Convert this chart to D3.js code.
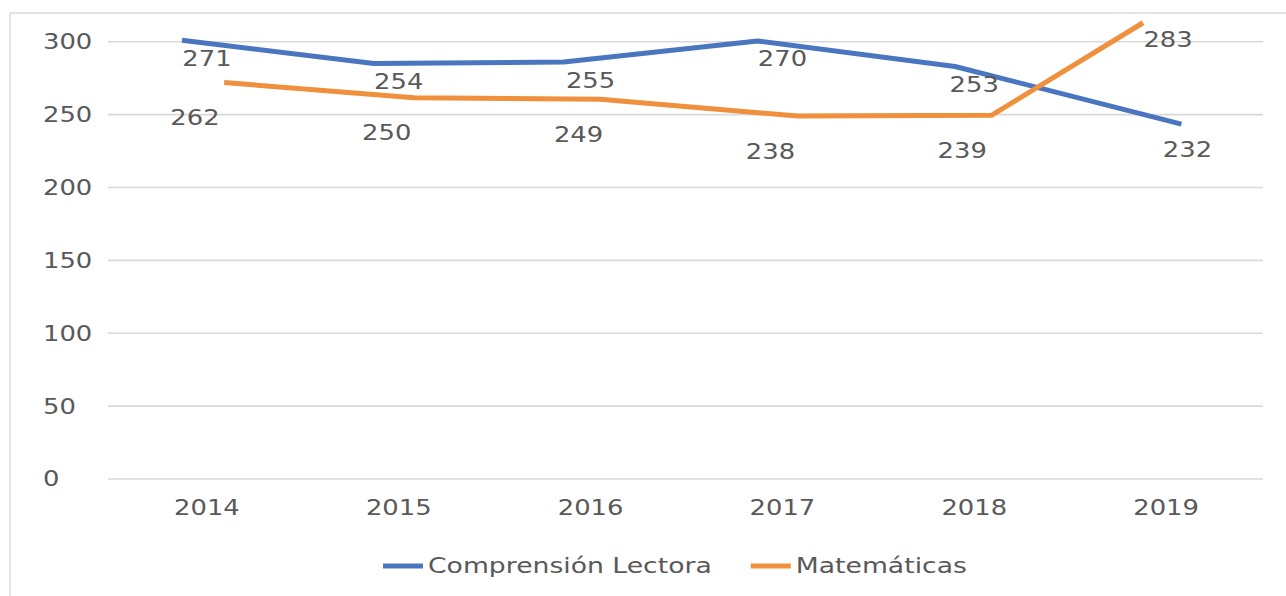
<!DOCTYPE html>
<html>
<head>
<meta charset="utf-8">
<script src="https://cdn.jsdelivr.net/npm/d3@7"></script>
<style>
  body { margin: 0; background: #fff; }
  text { font-family: "DejaVu Sans", sans-serif; fill: #595959; }
</style>
</head>
<body>
<div id="chart"></div>
<script>
// categories and values
var years = [2014, 2015, 2016, 2017, 2018, 2019];
var yTicks = [0, 50, 100, 150, 200, 250, 300];

// data labels as printed
var lectoraLabels = [271, 254, 255, 270, 253, 232];
var mateLabels = [262, 250, 249, 238, 239, 283];

// where the lines are actually drawn in the picture (year position, value)
var lectoraX = [2013.87, 2014.87, 2015.86, 2016.87, 2017.90, 2019.08];
var lectoraY = [301, 285, 286, 300.5, 283, 243.5];
var mateX = [2014.09, 2015.08, 2016.05, 2017.08, 2018.09, 2018.88];
var mateY = [272, 261.5, 260.5, 249, 249.5, 313];

var series = [
  { name: "Comprensión Lectora", color: "#4a76c0", xs: lectoraX, ys: lectoraY, labels: lectoraLabels, dx: 0, dy: 18 },
  { name: "Matemáticas", color: "#f0903c", xs: mateX, ys: mateY, labels: mateLabels, dx: -12, dy: 35 }
];

var W = 1286, H = 596;
var stretch = 1.26; // text in the picture is wider than tall

var svg = d3.select("#chart").append("svg")
    .attr("width", W)
    .attr("height", H);

// outer frame
svg.append("rect")
    .attr("x", 10).attr("y", 13)
    .attr("width", W + 10).attr("height", H + 10)
    .attr("fill", "none")
    .attr("stroke", "#dcdcdc")
    .attr("stroke-width", 1.5);

var x = d3.scaleLinear().domain([2013.5, 2019.5]).range([111, 1262]);
var y = d3.scaleLinear().domain([0, 300]).range([479, 41.7]);

function label(g, txt, px, py, anchor) {
  g.append("text")
    .attr("transform", "translate(" + px + "," + py + ") scale(" + stretch + ",1)")
    .attr("text-anchor", anchor || "middle")
    .attr("dominant-baseline", "central")
    .style("font-size", "20.5px")
    .text(txt);
}

// gridlines
svg.append("g").selectAll("line")
  .data(yTicks)
  .join("line")
    .attr("x1", 108).attr("x2", 1263)
    .attr("y1", d => y(d)).attr("y2", d => y(d))
    .attr("stroke", "#d9d9d9")
    .attr("stroke-width", 1.6);

// y tick labels (left aligned like the picture)
var yAxis = svg.append("g");
yTicks.forEach(function(t) { label(yAxis, t, 43, y(t), "start"); });

// x tick labels
var xAxis = svg.append("g");
years.forEach(function(yr) { label(xAxis, yr, x(yr), 508); });

// lines
var line = d3.line()
    .x(d => x(d[0]))
    .y(d => y(d[1]));

series.forEach(function(s) {
  svg.append("path")
    .datum(d3.zip(s.xs, s.ys))
    .attr("d", line)
    .attr("fill", "none")
    .attr("stroke", s.color)
    .attr("stroke-width", 5)
    .attr("stroke-linejoin", "round");
});

// data labels
var labs = svg.append("g");
series.forEach(function(s) {
  var top = d3.maxIndex(s.ys);
  var last = s.labels.length - 1;
  s.labels.forEach(function(v, i) {
    if (s.dx < 0 && i === top) {
      // the peak label sits to the right of the line end
      label(labs, v, x(s.xs[i]) + 25, y(s.ys[i]) + 17);
    } else if (i === last && x(s.xs[i]) > x(years[i])) {
      // line end runs past the category, label follows it
      label(labs, v, x(s.xs[i]) + 6, y(s.ys[i]) + s.dy + 7);
    } else {
      label(labs, v, x(years[i]) + s.dx, y(s.ys[i]) + s.dy);
    }
  });
});

// legend
var legend = svg.append("g");
var lx = 383, ly = 566;
series.forEach(function(s) {
  legend.append("line")
    .attr("x1", lx).attr("x2", lx + 40)
    .attr("y1", ly).attr("y2", ly)
    .attr("stroke", s.color)
    .attr("stroke-width", 5);
  var t = legend.append("text")
    .attr("transform", "translate(" + (lx + 45) + "," + ly + ") scale(" + 1.3 + ",1)")
    .attr("dominant-baseline", "central")
    .style("font-size", "20.5px")
    .text(s.name);
  lx += 45 + t.node().getComputedTextLength() * 1.3 + 39;
});
</script>
</body>
</html>
